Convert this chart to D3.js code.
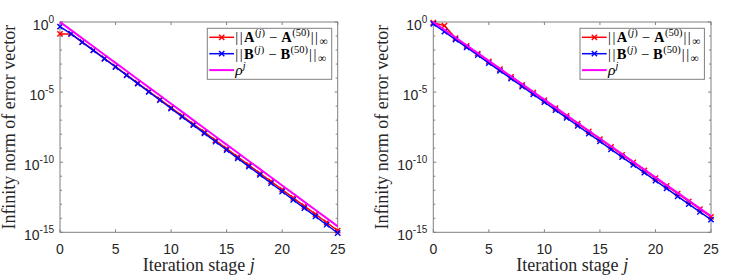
<!DOCTYPE html>
<html><head><meta charset="utf-8">
<script src="https://cdn.jsdelivr.net/npm/d3@7"></script>
<style>
html,body{margin:0;padding:0;background:#fff;}
svg{display:block;}
</style></head>
<body>
<svg id="chart" width="747" height="277"></svg>
<script>
// ---- data (stored as log10 of the error) ----
const iterations = [0,1,2,3,4,5,6,7,8,9,10,11,12,13,14,15,16,17,18,19,20,21,22,23,24,25];
const xTickValues = [0,5,10,15,20,25];
const yMajorExponents = [0,-5,-10,-15];
const yMinorExponents = [-1,-2,-3,-4,-6,-7,-8,-9,-11,-12,-13,-14];

const leftErrA = [-0.85,-0.85,-1.43,-2.01,-2.60,-3.18,-3.77,-4.35,-4.94,-5.52,-6.11,-6.69,-7.28,-7.86,-8.45,-9.03,-9.62,-10.20,-10.79,-11.37,-11.96,-12.54,-13.13,-13.71,-14.30,-14.88];
const leftErrB = [-0.33,-0.84,-1.43,-2.02,-2.62,-3.21,-3.80,-4.39,-4.98,-5.58,-6.17,-6.76,-7.35,-7.94,-8.54,-9.13,-9.72,-10.31,-10.90,-11.50,-12.09,-12.68,-13.27,-13.86,-14.46,-15.05];
const leftRho  = [0,-0.583,-1.166,-1.749,-2.332,-2.915,-3.498,-4.081,-4.664,-5.247,-5.83,-6.413,-6.996,-7.579,-8.162,-8.745,-9.328,-9.911,-10.494,-11.077,-11.66,-12.243,-12.826,-13.409,-13.992,-14.575];

const rightErrA = [-0.05,-0.26,-1.15,-1.70,-2.26,-2.81,-3.37,-3.92,-4.48,-5.03,-5.58,-6.14,-6.69,-7.25,-7.80,-8.36,-8.91,-9.47,-10.02,-10.58,-11.13,-11.69,-12.24,-12.79,-13.35,-13.90];
const rightErrB = [-0.14,-0.69,-1.25,-1.81,-2.37,-2.93,-3.48,-4.04,-4.60,-5.16,-5.72,-6.28,-6.84,-7.40,-7.96,-8.52,-9.08,-9.63,-10.19,-10.75,-11.31,-11.87,-12.43,-12.99,-13.55,-14.10];
const rightRho  = [0,-0.554,-1.108,-1.662,-2.216,-2.77,-3.324,-3.878,-4.432,-4.986,-5.54,-6.094,-6.648,-7.202,-7.756,-8.31,-8.864,-9.418,-9.972,-10.526,-11.08,-11.634,-12.188,-12.742,-13.296,-13.85];

const xLabel = "Iteration stage ";
const yLabel = "Infinity norm of error vector";

// ---- layout ----
const svg = d3.select("#chart");
const TOP = 22, BOT = 232.3;
const panels = [
  {x0:60, x1:337.7, A:leftErrA, B:leftErrB, R:leftRho, legX:207.3, labX:15},
  {x0:433.3, x1:711, A:rightErrA, B:rightErrB, R:rightRho, legX:580, labX:388.3}
];
const AX = "#808080", TXT = "#262626";
const SANS = "'Liberation Sans', Arial, sans-serif";
const SERIF = "'Liberation Serif', 'Times New Roman', serif";

function xMarker(g, cx, cy, color){
  g.append("path")
    .attr("d", d3.symbol(d3.symbolTimes, 20)())
    .attr("transform", `translate(${cx},${cy})`)
    .attr("fill","none").attr("stroke", color).attr("stroke-width", 1.4);
}

panels.forEach(p => {
  const x = d3.scaleLinear().domain([0,25]).range([p.x0, p.x1]);
  const y = d3.scaleLog().domain([1e-15, 1]).range([BOT, TOP]);
  const g = svg.append("g");

  // box
  g.append("rect").attr("x", p.x0).attr("y", TOP).attr("width", p.x1-p.x0).attr("height", BOT-TOP)
    .attr("fill","none").attr("stroke", AX).attr("stroke-width", 1);

  // x ticks (bottom & top, inward)
  xTickValues.forEach(v => {
    const xx = x(v);
    g.append("line").attr("x1",xx).attr("x2",xx).attr("y1",BOT).attr("y2",BOT-3).attr("stroke",AX);
    g.append("line").attr("x1",xx).attr("x2",xx).attr("y1",TOP).attr("y2",TOP+3).attr("stroke",AX);
    g.append("text").attr("x", xx).attr("y", 253.5).attr("text-anchor","middle")
      .attr("font-family", SANS).attr("font-size", 14).attr("fill", TXT).text(v);
  });
  // y ticks
  yMajorExponents.forEach(e => {
    const yy = y(Math.pow(10, e));
    g.append("line").attr("x1",p.x0).attr("x2",p.x0+3).attr("y1",yy).attr("y2",yy).attr("stroke",AX);
    g.append("line").attr("x1",p.x1).attr("x2",p.x1-3).attr("y1",yy).attr("y2",yy).attr("stroke",AX);
    const t = g.append("text").attr("x", p.x0-6).attr("y", yy+8).attr("text-anchor","end")
      .attr("font-family", SANS).attr("fill", TXT);
    t.append("tspan").attr("font-size",14).text("10");
    t.append("tspan").attr("font-size",10).attr("dy",-7).text(String(e));
  });
  yMinorExponents.forEach(e => {
    const yy = y(Math.pow(10, e));
    g.append("line").attr("x1",p.x0).attr("x2",p.x0+2).attr("y1",yy).attr("y2",yy).attr("stroke",AX);
    g.append("line").attr("x1",p.x1).attr("x2",p.x1-2).attr("y1",yy).attr("y2",yy).attr("stroke",AX);
  });

  // axis labels
  const xl = g.append("text").attr("x", (p.x0+p.x1)/2).attr("y", 271).attr("text-anchor","middle")
    .attr("font-family", SERIF).attr("font-size", 18).attr("fill", TXT);
  xl.append("tspan").text(xLabel);
  xl.append("tspan").attr("font-style","italic").text("j");
  g.append("text").attr("transform", `translate(${p.labX},${(TOP+BOT)/2}) rotate(-90)`)
    .attr("text-anchor","middle").attr("font-family", SERIF).attr("font-size", 18).attr("fill", TXT)
    .text(yLabel);

  // series
  const line = d3.line().x((d,i)=>x(iterations[i])).y(d=>y(Math.pow(10,d)));
  const series = [
    {vals:p.A, color:"#ff0000", w:1.5, mk:true},
    {vals:p.B, color:"#0000ff", w:1.5, mk:true},
    {vals:p.R, color:"#ff00ff", w:2, mk:false}
  ];
  series.forEach(s => {
    g.append("path").attr("d", line(s.vals)).attr("fill","none")
      .attr("stroke", s.color).attr("stroke-width", s.w);
    if (s.mk) s.vals.forEach((v,i) => xMarker(g, x(iterations[i]), y(Math.pow(10,v)), s.color));
  });

  // legend
  const lx = p.legX, ly = 28.3;
  g.append("rect").attr("x", lx).attr("y", ly).attr("width", 124.4).attr("height", 51)
    .attr("fill","#fff").attr("stroke", AX).attr("stroke-width", 1);
  const rows = [
    {color:"#ff0000", mk:true, w:1.5, name:"A"},
    {color:"#0000ff", mk:true, w:1.5, name:"B"},
    {color:"#ff00ff", mk:false, w:2, name:null}
  ];
  rows.forEach((r,i) => {
    const cy = 37.3 + i*16.4;
    g.append("line").attr("x1", lx+2).attr("x2", lx+26.7).attr("y1", cy).attr("y2", cy)
      .attr("stroke", r.color).attr("stroke-width", r.w);
    if (r.mk) xMarker(g, lx+14.4, cy, r.color);
    const t = g.append("text").attr("x", lx+28).attr("y", cy+5)
      .attr("font-family", SERIF).attr("font-size", 14.5).attr("fill", "#000");
    if (r.name) {
      t.append("tspan").attr("letter-spacing", 1.5).text("||");
      t.append("tspan").attr("font-weight","bold").attr("dx",0).text(r.name);
      t.append("tspan").attr("font-size",10.5).attr("dy",-6).attr("dx",0.5).text("(");
      t.append("tspan").attr("font-size",10.5).attr("font-style","italic").text("j");
      t.append("tspan").attr("font-size",10.5).text(")");
      t.append("tspan").attr("dy",6).attr("dx",4).text("−");
      t.append("tspan").attr("font-weight","bold").attr("dx",4).text(r.name);
      t.append("tspan").attr("font-size",10.5).attr("dy",-6).attr("dx",0.5).text("(50)");
      t.append("tspan").attr("dy",6).attr("dx",1).attr("letter-spacing", 1.5).text("||");
      t.append("tspan").attr("font-size",11.5).attr("dy",3).text("∞");
    } else {
      t.append("tspan").attr("font-style","italic").attr("font-size",15.5).text("ρ");
      t.append("tspan").attr("font-size",10.5).attr("font-style","italic").attr("dy",-6).text("j");
    }
  });
});
</script>
</body></html>
